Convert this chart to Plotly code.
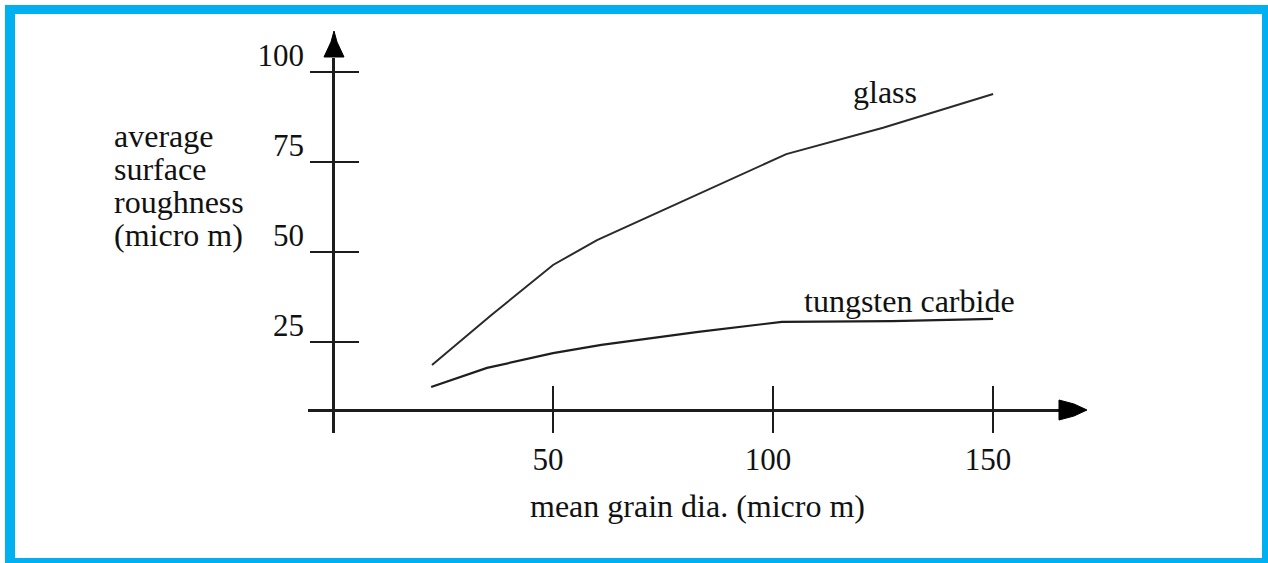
import plotly.graph_objects as go

W, H = 1268, 563

# ---- data ----
glass_x = [22.5, 36, 50, 60, 76, 91, 103, 125, 150]
glass_y = [18.6, 32.5, 46.4, 53.3, 62.2, 70.6, 77.2, 84.5, 93.9]
carbide_x = [22.3, 35, 50, 61, 83, 102, 127, 150]
carbide_y = [12.5, 17.8, 21.9, 24.2, 27.8, 30.6, 30.8, 31.4]
series_names = ["glass", "tungsten carbide"]
x_ticks = [50, 100, 150]
y_ticks = [25, 50, 75, 100]
x_title = "mean grain dia. (micro m)"
y_title_lines = ["average", "surface", "roughness", "(micro m)"]

# ---- layout constants ----
X_RANGE = [-5.68, 165.2]
Y_RANGE = [-0.28, 103.9]
X_AXIS_AT_Y = 6.1      # height where the horizontal axis crosses
Y_AXIS_AT_X = 0        # the vertical axis sits at x = 0
XDOM = [308 / W, 1060 / W]
YDOM = [1 - 433 / H, 1 - 58 / H]
INK = "#1c1c1c"
BLUE = "#00B0F0"
SERIF = "Liberation Serif"


def px(x):
    return x / W


def py(y):
    return 1 - y / H


xpos = YDOM[0] + (X_AXIS_AT_Y - Y_RANGE[0]) / (Y_RANGE[1] - Y_RANGE[0]) * (YDOM[1] - YDOM[0])
ypos = XDOM[0] + (Y_AXIS_AT_X - X_RANGE[0]) / (X_RANGE[1] - X_RANGE[0]) * (XDOM[1] - XDOM[0])

fig = go.Figure()
fig.add_trace(go.Scatter(x=glass_x, y=glass_y, mode="lines", name=series_names[0],
                         line=dict(color="#2a2a2a", width=2)))
fig.add_trace(go.Scatter(x=carbide_x, y=carbide_y, mode="lines", name=series_names[1],
                         line=dict(color="#1e1e1e", width=2.2)))
# helper trace so the overlay axes (inner half of the crossing ticks) render
fig.add_trace(go.Scatter(x=[None], y=[None], xaxis="x2", yaxis="y2",
                         showlegend=False, hoverinfo="skip"))

tickfont = dict(family=SERIF, size=31, color="#111")
fig.update_layout(
    width=W, height=H,
    margin=dict(l=0, r=0, t=0, b=0, pad=0, autoexpand=False),
    paper_bgcolor="white", plot_bgcolor="white",
    showlegend=False,
    xaxis=dict(range=X_RANGE, domain=XDOM, anchor="free", position=xpos,
               showline=True, linecolor=INK, linewidth=2.5, automargin=False,
               ticks="outside", ticklen=21, tickwidth=2, tickcolor=INK,
               tickvals=x_ticks, ticktext=[str(v) for v in x_ticks],
               tickfont=tickfont, ticklabelstandoff=0, ticklabelshift=-5,
               showgrid=False, zeroline=False),
    xaxis2=dict(range=X_RANGE, overlaying="x", anchor="free", position=xpos,
                ticks="inside", ticklen=24, tickwidth=2, tickcolor=INK, automargin=False,
                tickvals=x_ticks, showticklabels=False, showline=False,
                showgrid=False, zeroline=False),
    yaxis=dict(range=Y_RANGE, domain=YDOM, anchor="free", position=ypos,
               showline=True, linecolor=INK, linewidth=2.5, automargin=False,
               ticks="outside", ticklen=22, tickwidth=2, tickcolor=INK,
               tickvals=y_ticks, ticktext=[str(v) for v in y_ticks],
               tickfont=tickfont, ticklabelshift=-17,
               showgrid=False, zeroline=False),
    yaxis2=dict(range=Y_RANGE, overlaying="y", anchor="free", position=ypos,
                ticks="inside", ticklen=25, tickwidth=2, tickcolor=INK, automargin=False,
                tickvals=y_ticks, showticklabels=False, showline=False,
                showgrid=False, zeroline=False),
)

shapes = []
# blue frame
for x0, y0, x1, y1 in [(5, 5, 1268, 14), (5, 5, 15, 563), (1262, 5, 1268, 563), (5, 558, 1268, 563)]:
    shapes.append(dict(type="rect", xref="paper", yref="paper",
                       x0=px(x0), x1=px(x1), y0=py(y0), y1=py(y1),
                       fillcolor=BLUE, line=dict(width=0), layer="above"))


def path(pts):
    return "M " + " L ".join(f"{px(a):.5f},{py(b):.5f}" for a, b in pts) + " Z"


# arrow heads
shapes.append(dict(type="path", xref="paper", yref="paper",
                   path=path([(324, 57), (331, 42), (334, 31), (337, 42), (344, 57)]),
                   fillcolor="black", line=dict(color="black", width=1)))
shapes.append(dict(type="path", xref="paper", yref="paper",
                   path=path([(1059, 400), (1074, 404), (1087, 410), (1074, 416), (1059, 420)]),
                   fillcolor="black", line=dict(color="black", width=1)))
fig.update_layout(shapes=shapes)

textfont = dict(family=SERIF, size=32, color="#111")
ann = []
ann.append(dict(x=px(697), y=py(506), xref="paper", yref="paper", text=x_title,
                showarrow=False, xanchor="center", yanchor="middle", font=textfont))
for i, line in enumerate(y_title_lines):
    ann.append(dict(x=px(112), y=py(136 + 33 * i), xref="paper", yref="paper", text=line,
                    showarrow=False, xanchor="left", yanchor="middle", font=textfont))
ann.append(dict(x=glass_x[-1] - 24.5, y=glass_y[-1] + 0.5, xref="x", yref="y", text=series_names[0],
                showarrow=False, xanchor="center", yanchor="middle", font=textfont))
ann.append(dict(x=carbide_x[-1] - 19, y=carbide_y[-1] + 5, xref="x", yref="y", text=series_names[1],
                showarrow=False, xanchor="center", yanchor="middle", font=textfont))
fig.update_layout(annotations=ann)

fig.write_html("out.html", config={"displayModeBar": False},
               post_script="document.body.style.margin='0px';document.body.style.overflow='hidden';")
